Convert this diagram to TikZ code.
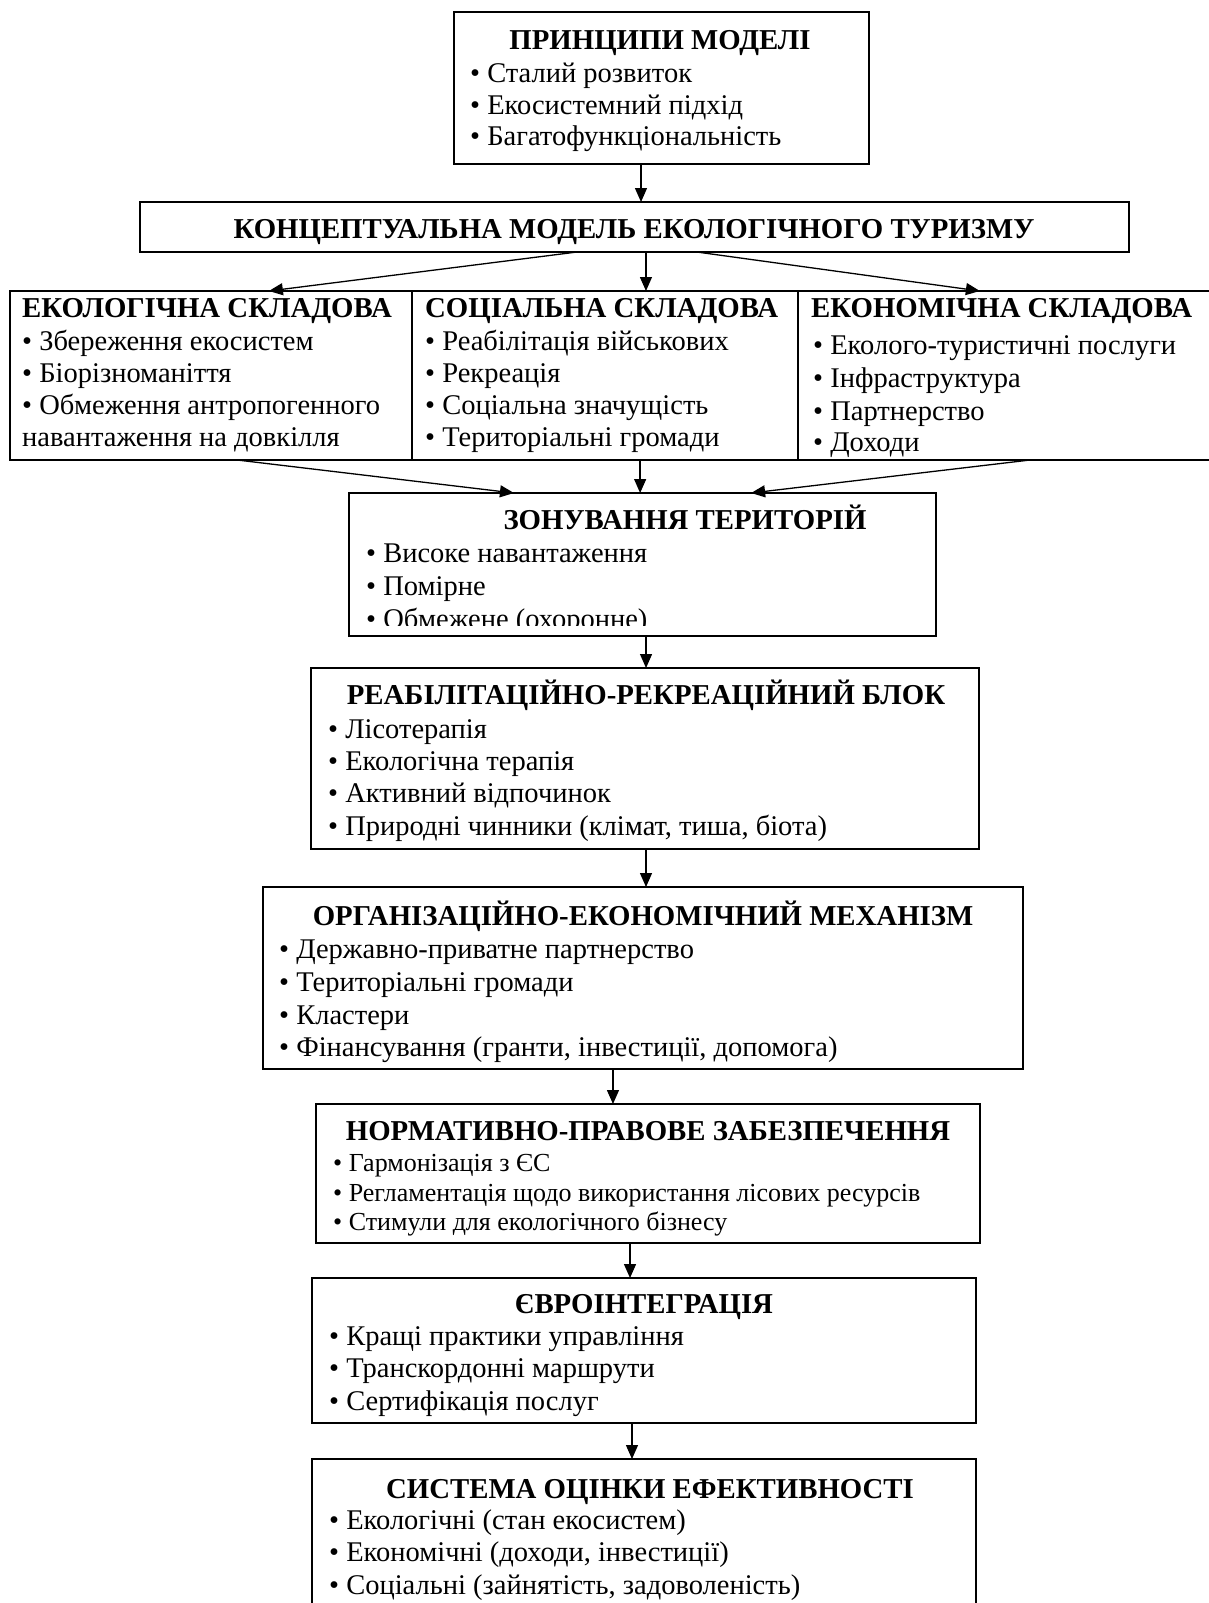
\documentclass[tikz,border=0pt]{standalone}
\usepackage{fontspec}
\setmainfont{Liberation Serif}
\usetikzlibrary{arrows.meta,calc}
\begin{document}
\begin{tikzpicture}[x=1pt,y=-1pt,
  box/.style={draw, line width=1.3pt, anchor=north west, inner sep=0pt, outer sep=0pt},
  bigbox/.style={draw, line width=2.8pt, anchor=north west, inner sep=0pt, outer sep=0pt},
  ttl/.style={anchor=base, inner sep=0pt, font=\fontsize{28.8}{32}\selectfont\bfseries},
  itm/.style={anchor=base west, inner sep=0pt, font=\fontsize{28.5}{32}\selectfont},
  sitm/.style={anchor=base west, inner sep=0pt, font=\fontsize{26}{29}\selectfont},
  arr/.style={-{Triangle[length=14pt,width=12pt]}, line width=1.3pt}
]
\useasboundingbox (0,0) rectangle (1208,1603);
\fill[white] (0,0) rectangle (1208,1603);

% boxes
\node[box, minimum width=415pt, minimum height=152pt] (p) at (454,12) {};
\node[box, minimum width=989pt, minimum height=50pt] (c) at (140,202) {};
\node[bigbox, minimum width=402pt, minimum height=169pt] (eco) at (10,291) {};
\node[bigbox, minimum width=386pt, minimum height=169pt] (soc) at (412,291) {};
\node[bigbox, minimum width=422pt, minimum height=169pt] (econ) at (798,291) {};
\node[box, minimum width=587pt, minimum height=143pt] (z) at (349,493) {};
\node[box, minimum width=668pt, minimum height=181pt] (r) at (311,668) {};
\node[box, minimum width=760pt, minimum height=182pt] (o) at (263,887) {};
\node[box, minimum width=664pt, minimum height=139pt] (n) at (316,1104) {};
\node[box, minimum width=664pt, minimum height=145pt] (e) at (312,1278) {};
\node[box, minimum width=664pt, minimum height=170pt] (v) at (312,1459) {};

% texts
\node[ttl] (pt) at (660,50) {ПРИНЦИПИ МОДЕЛІ};
\node[itm] (p1) at (470,82) {• Сталий розвиток};
\node[itm] (p2) at (470,114) {• Екосистемний підхід};
\node[itm] (p3) at (470,145) {• Багатофункціональність};

\node[ttl] (ct) at (634,238) {КОНЦЕПТУАЛЬНА МОДЕЛЬ ЕКОЛОГІЧНОГО ТУРИЗМУ};

\node[ttl, anchor=base west] (ecot) at (22,317) {ЕКОЛОГІЧНА СКЛАДОВА};
\node[itm] (eco1) at (22,350) {• Збереження екосистем};
\node[itm] (eco2) at (22,382) {• Біорізноманіття};
\node[itm] (eco3) at (22,414) {• Обмеження антропогенного};
\node[itm] (eco4) at (22,446) {навантаження на довкілля};

\node[ttl, anchor=base west] (soct) at (425,317) {СОЦІАЛЬНА СКЛАДОВА};
\node[itm] (soc1) at (425,350) {• Реабілітація військових};
\node[itm] (soc2) at (425,382) {• Рекреація};
\node[itm] (soc3) at (425,414) {• Соціальна значущість};
\node[itm] (soc4) at (425,446) {• Територіальні громади};

\node[ttl, anchor=base west] (econt) at (811,317) {ЕКОНОМІЧНА СКЛАДОВА};
\node[itm] (econ1) at (813,354) {•\ Еколого-туристичні послуги};
\node[itm] (econ2) at (813,387) {• Інфраструктура};
\node[itm] (econ3) at (813,420) {• Партнерство};
\node[itm] (econ4) at (813,451) {• Доходи};

\node[ttl] (zt) at (685,529) {ЗОНУВАННЯ ТЕРИТОРІЙ};
\node[itm] (z1) at (366,562) {• Високе навантаження};
\node[itm] (z2) at (366,595) {• Помірне};
\begin{scope}
\clip (349,493) rectangle (936,625);
\node[itm] (z3) at (366,628) {• Обмежене (охоронне)};
\end{scope}

\node[ttl] (rt) at (646,704) {РЕАБІЛІТАЦІЙНО-РЕКРЕАЦІЙНИЙ БЛОК};
\node[itm] (r1) at (328,738) {• Лісотерапія};
\node[itm] (r2) at (328,770) {• Екологічна терапія};
\node[itm] (r3) at (328,802) {• Активний відпочинок};
\node[itm] (r4) at (328,835) {• Природні чинники (клімат, тиша, біота)};

\node[ttl] (ot) at (643,925) {ОРГАНІЗАЦІЙНО-ЕКОНОМІЧНИЙ МЕХАНІЗМ};
\node[itm] (o1) at (279,958) {• Державно-приватне партнерство};
\node[itm] (o2) at (279,991) {• Територіальні громади};
\node[itm] (o3) at (279,1024) {• Кластери};
\node[itm] (o4) at (279,1056) {• Фінансування (гранти, інвестиції, допомога)};

\node[ttl] (nt) at (648,1140) {НОРМАТИВНО-ПРАВОВЕ ЗАБЕЗПЕЧЕННЯ};
\node[sitm] (n1) at (333,1171) {• Гармонізація з ЄС};
\node[sitm] (n2) at (333,1201) {• Регламентація щодо використання лісових ресурсів};
\node[sitm] (n3) at (333,1230) {• Стимули для екологічного бізнесу};

\node[ttl] (et) at (644,1313) {ЄВРОІНТЕГРАЦІЯ};
\node[itm] (e1) at (329,1345) {• Кращі практики управління};
\node[itm] (e2) at (329,1377) {• Транскордонні маршрути};
\node[itm] (e3) at (329,1410) {• Сертифікація послуг};

\node[ttl] (vt) at (650,1498) {СИСТЕМА ОЦІНКИ ЕФЕКТИВНОСТІ};
\node[itm] (v1) at (329,1529) {• Екологічні (стан екосистем)};
\node[itm] (v2) at (329,1561) {• Економічні (доходи, інвестиції)};
\node[itm] (v3) at (329,1594) {• Соціальні (зайнятість, задоволеність)};

% connectors
\draw[arr] ($(p.south west)!0.4506!(p.south east)$) coordinate (a1) -- (a1 |- c.north);
\draw[arr] ($(c.south west)!0.442!(c.south east)$) -- ($(eco.north west)!0.644!(eco.north east)$);
\draw[arr] ($(c.south west)!0.5116!(c.south east)$) coordinate (a2) -- (a2 |- soc.north);
\draw[arr] ($(c.south west)!0.563!(c.south east)$) -- ($(econ.north west)!0.431!(econ.north east)$);
\draw[arr] ($(eco.south west)!0.565!(eco.south east)$) -- ($(z.north west)!0.281!(z.north east)$);
\draw[arr] ($(soc.south west)!0.591!(soc.south east)$) coordinate (a3) -- (a3 |- z.north);
\draw[arr] ($(econ.south west)!0.550!(econ.south east)$) -- ($(z.north west)!0.685!(z.north east)$);
\draw[arr] ($(z.south west)!0.506!(z.south east)$) coordinate (a4) -- (a4 |- r.north);
\draw[arr] ($(r.south west)!0.5015!(r.south east)$) coordinate (a5) -- (a5 |- o.north);
\draw[arr] ($(o.south west)!0.4605!(o.south east)$) coordinate (a6) -- (a6 |- n.north);
\draw[arr] ($(n.south west)!0.4729!(n.south east)$) coordinate (a7) -- (a7 |- e.north);
\draw[arr] ($(e.south west)!0.4819!(e.south east)$) coordinate (a8) -- (a8 |- v.north);
\end{tikzpicture}
\end{document}
